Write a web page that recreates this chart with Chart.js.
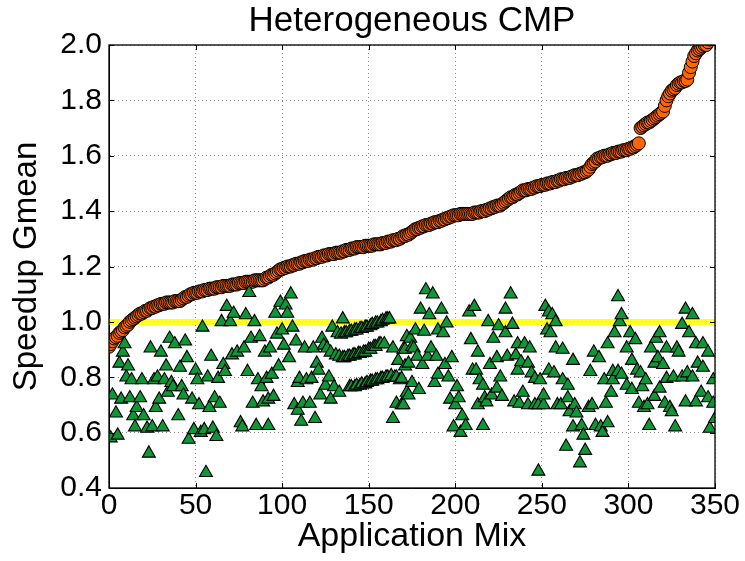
<!DOCTYPE html>
<html>
<head>
<meta charset="utf-8">
<title>Heterogeneous CMP</title>
<script src="https://cdn.jsdelivr.net/npm/chart.js@4.4.1/dist/chart.umd.min.js"></script>
<style>
  html, body { margin: 0; padding: 0; background: #fff; }
  #wrap { width: 745px; height: 561px; }
</style>
</head>
<body>
<div id="wrap"><canvas id="chart"></canvas></div>
<script>
// sorted speedup per application mix (orange circles), index = mix number
const speedupSorted = [
  0.91, 0.92, 0.93, 0.94, 0.945, 0.95, 0.96, 0.965, 0.97, 0.98,
  0.985, 0.99, 1.00, 1.005, 1.01, 1.015, 1.02, 1.025, 1.03, 1.03,
  1.035, 1.04, 1.04, 1.045, 1.05, 1.05, 1.055, 1.055, 1.06, 1.06,
  1.065, 1.065, 1.065, 1.07, 1.07, 1.07, 1.07, 1.07, 1.075, 1.075,
  1.075, 1.075, 1.08, 1.085, 1.09, 1.09, 1.095, 1.10, 1.10, 1.105,
  1.105, 1.105, 1.11, 1.11, 1.11, 1.115, 1.115, 1.115, 1.12, 1.12,
  1.12, 1.12, 1.125, 1.125, 1.125, 1.125, 1.13, 1.13, 1.13, 1.13,
  1.13, 1.135, 1.135, 1.135, 1.135, 1.14, 1.14, 1.14, 1.14, 1.145,
  1.145, 1.145, 1.145, 1.145, 1.15, 1.15, 1.15, 1.15, 1.15, 1.15,
  1.155, 1.16, 1.16, 1.165, 1.17, 1.17, 1.175, 1.18, 1.185, 1.19,
  1.19, 1.195, 1.195, 1.20, 1.20, 1.20, 1.205, 1.205, 1.21, 1.21,
  1.21, 1.215, 1.215, 1.22, 1.22, 1.22, 1.225, 1.225, 1.225, 1.23,
  1.23, 1.235, 1.235, 1.235, 1.24, 1.24, 1.24, 1.245, 1.245, 1.245,
  1.245, 1.25, 1.25, 1.25, 1.25, 1.255, 1.255, 1.26, 1.26, 1.26,
  1.265, 1.265, 1.265, 1.27, 1.27, 1.27, 1.27, 1.27, 1.275, 1.275,
  1.275, 1.275, 1.275, 1.28, 1.28, 1.28, 1.28, 1.28, 1.285, 1.285,
  1.285, 1.29, 1.29, 1.29, 1.295, 1.295, 1.295, 1.30, 1.30, 1.305,
  1.31, 1.31, 1.315, 1.315, 1.32, 1.325, 1.33, 1.335, 1.335, 1.34,
  1.34, 1.345, 1.345, 1.35, 1.35, 1.35, 1.355, 1.355, 1.36, 1.36,
  1.36, 1.365, 1.365, 1.37, 1.37, 1.375, 1.375, 1.38, 1.38, 1.385,
  1.385, 1.385, 1.385, 1.39, 1.39, 1.39, 1.39, 1.39, 1.39, 1.39,
  1.39, 1.395, 1.395, 1.395, 1.395, 1.40, 1.40, 1.40, 1.405, 1.405,
  1.41, 1.41, 1.415, 1.415, 1.42, 1.42, 1.42, 1.425, 1.43, 1.435,
  1.44, 1.445, 1.45, 1.45, 1.455, 1.46, 1.46, 1.465, 1.47, 1.475,
  1.475, 1.475, 1.48, 1.48, 1.48, 1.485, 1.485, 1.49, 1.49, 1.49,
  1.495, 1.495, 1.495, 1.50, 1.50, 1.50, 1.505, 1.505, 1.505, 1.51,
  1.51, 1.515, 1.515, 1.515, 1.52, 1.52, 1.52, 1.525, 1.525, 1.53,
  1.53, 1.53, 1.535, 1.535, 1.54, 1.54, 1.545, 1.55, 1.56, 1.57,
  1.575, 1.58, 1.59, 1.59, 1.595, 1.595, 1.60, 1.60, 1.60, 1.605,
  1.605, 1.61, 1.61, 1.61, 1.615, 1.615, 1.615, 1.62, 1.62, 1.62,
  1.625, 1.625, 1.63, 1.63, 1.635, 1.64, 1.645, 1.70, 1.705, 1.71,
  1.715, 1.72, 1.72, 1.725, 1.73, 1.735, 1.74, 1.745, 1.75, 1.755,
  1.76, 1.78, 1.80, 1.815, 1.825, 1.835, 1.84, 1.845, 1.855, 1.86,
  1.865, 1.865, 1.87, 1.87, 1.875, 1.90, 1.92, 1.94, 1.96, 1.97,
  1.98, 1.985, 1.99, 1.995, 2.0, 2.0, 2.01, 2.02, 2.03, 2.05
];

// green triangles: mix number and value
const mixX = [
  1, 2, 4, 5, 6, 7, 8, 9, 10, 11,
  12, 13, 14, 15, 16, 18, 19, 20, 22, 23,
  24, 25, 26, 27, 28, 29, 30, 31, 32, 33,
  34, 35, 36, 37, 38, 40, 41, 42, 43, 44,
  45, 46, 48, 49, 50, 51, 52, 53, 54, 55,
  56, 57, 58, 59, 60, 61, 62, 63, 64, 65,
  66, 67, 68, 70, 71, 72, 74, 76, 77, 78,
  79, 80, 81, 82, 83, 84, 85, 86, 87, 88,
  89, 90, 91, 92, 92, 93, 94, 95, 96, 97,
  98, 99, 100, 101, 102, 103, 104, 105, 106, 107,
  108, 109, 109, 110, 111, 112, 113, 114, 116, 117,
  118, 119, 120, 121, 122, 123, 124, 125, 126, 127,
  128, 128, 129, 130, 131, 132, 133, 133, 134, 135,
  135, 136, 136, 137, 138, 139, 139, 139, 140, 140,
  141, 142, 142, 142, 143, 143, 144, 145, 145, 145,
  146, 146, 147, 148, 148, 148, 149, 149, 150, 151,
  151, 151, 152, 152, 153, 154, 154, 154, 155, 155,
  156, 157, 157, 157, 158, 158, 159, 160, 160, 161,
  161, 162, 163, 164, 164, 165, 166, 166, 167, 168,
  169, 169, 170, 170, 171, 171, 172, 172, 173, 173,
  174, 175, 175, 176, 177, 178, 179, 180, 181, 182,
  183, 184, 185, 186, 187, 188, 189, 190, 190, 192,
  193, 194, 195, 196, 197, 198, 199, 200, 201, 202,
  203, 204, 206, 208, 209, 210, 211, 212, 213, 213,
  214, 216, 216, 217, 218, 219, 220, 221, 222, 224,
  224, 225, 226, 227, 229, 229, 230, 232, 233, 234,
  235, 236, 236, 237, 238, 239, 240, 242, 242, 243,
  244, 246, 246, 248, 248, 249, 251, 251, 252, 253,
  254, 254, 255, 256, 257, 258, 258, 259, 261, 262,
  262, 264, 265, 265, 266, 268, 268, 269, 270, 272,
  273, 274, 275, 277, 278, 279, 280, 281, 283, 284,
  285, 286, 287, 288, 288, 290, 291, 291, 292, 294,
  294, 295, 296, 296, 299, 299, 301, 302, 302, 304,
  305, 306, 307, 308, 309, 310, 311, 312, 313, 315,
  315, 316, 317, 318, 318, 320, 321, 322, 322, 324,
  325, 326, 327, 328, 329, 331, 331, 333, 333, 334,
  335, 337, 337, 339, 339, 340, 342, 343, 343, 346,
  346, 347, 349, 349, 350
];
const mixY = [
  0.58, 0.735, 0.67, 0.59, 0.85, 0.72, 0.89, 0.92, 0.80, 0.84,
  0.725, 0.79, 0.66, 0.62, 0.69, 0.725, 0.79, 0.66, 0.615, 0.525,
  0.905, 0.62, 0.79, 0.69, 0.80, 0.72, 0.89, 0.62, 0.79, 0.84,
  0.745, 0.94, 0.78, 0.765, 0.92, 0.66, 0.835, 0.765, 0.735, 0.93,
  0.87, 0.575, 0.72, 0.61, 0.825, 0.79, 0.70, 0.60, 0.98, 0.61,
  0.455, 0.80, 0.69, 0.875, 0.615, 0.725, 0.585, 0.795, 0.705, 1.0,
  0.845, 0.82, 1.055, 1.0, 0.88, 1.03, 0.89, 0.635, 0.62, 0.905,
  1.025, 0.82, 1.105, 0.94, 0.705, 1.0, 0.625, 0.79, 0.946, 0.765,
  0.71, 0.89, 0.795, 0.72, 0.625, 0.905, 0.81, 0.73, 1.03, 0.955,
  0.84, 1.07, 0.97, 0.915, 1.06, 1.03, 0.87, 1.10, 0.98, 0.70,
  0.93, 0.68, 0.78, 0.795, 0.64, 0.705, 0.905, 0.79, 0.705, 0.795,
  0.905, 0.65, 0.85, 0.825, 0.735, 0.94, 0.915, 0.77, 0.905, 0.80,
  0.72, 0.89, 0.98, 0.765, 0.88, 0.96, 0.745, 0.875, 0.955, 1.01,
  0.87, 0.96, 0.87, 0.96, 0.875, 0.965, 0.875, 0.765, 0.965, 0.765,
  0.88, 0.97, 0.88, 0.765, 0.97, 0.77, 0.885, 0.975, 0.885, 0.77,
  0.975, 0.775, 0.89, 0.98, 0.89, 0.775, 0.98, 0.78, 0.90, 0.985,
  0.90, 0.785, 0.99, 0.785, 0.91, 0.995, 0.91, 0.79, 0.995, 0.79,
  0.92, 1.0, 0.92, 0.795, 1.005, 0.795, 0.92, 1.01, 0.80, 1.01,
  0.80, 1.01, 0.805, 0.905, 0.65, 0.80, 0.80, 0.705, 0.86, 0.79,
  0.795, 0.70, 0.90, 0.70, 0.90, 0.84, 0.946, 0.745, 0.85, 0.735,
  0.94, 0.91, 0.78, 0.905, 0.97, 0.875, 0.755, 1.045, 0.845, 0.965,
  1.115, 0.875, 1.025, 0.905, 1.10, 0.78, 0.875, 0.97, 0.81, 1.045,
  0.96, 0.845, 0.995, 0.80, 0.72, 0.87, 0.62, 0.70, 0.765, 0.725,
  0.60, 0.66, 0.625, 1.035, 0.935, 0.825, 1.055, 0.825, 0.89, 0.70,
  0.79, 0.77, 0.625, 0.725, 0.71, 1.0, 0.845, 0.735, 0.94, 0.87,
  0.76, 0.985, 0.80, 0.73, 0.96, 1.045, 0.875, 1.10, 0.99, 0.71,
  0.88, 0.92, 0.825, 0.705, 0.855, 0.745, 0.92, 0.85, 0.70, 0.905,
  0.815, 0.795, 0.70, 0.70, 0.46, 0.79, 0.70, 0.735, 1.055, 0.97,
  1.035, 0.825, 0.96, 1.025, 0.815, 1.0, 0.905, 0.70, 0.70, 0.90,
  0.79, 0.55, 0.77, 0.725, 0.675, 0.86, 0.62, 0.70, 0.67, 0.49,
  0.625, 0.59, 0.535, 0.69, 0.82, 0.70, 0.89, 0.625, 0.87, 0.62,
  0.60, 0.79, 0.705, 0.92, 0.635, 0.745, 0.82, 0.79, 0.96, 1.09,
  0.82, 1.0, 1.025, 0.81, 0.905, 0.77, 0.96, 0.86, 0.755, 0.935,
  0.825, 0.705, 0.815, 0.765, 0.69, 0.79, 0.70, 0.625, 0.905, 0.85,
  0.73, 0.94, 0.87, 0.96, 0.76, 0.845, 0.705, 0.795, 0.905, 0.69,
  0.675, 0.80, 0.62, 0.905, 0.89, 0.99, 0.80, 1.045, 0.71, 0.815,
  0.96, 1.025, 0.80, 0.92, 0.71, 0.85, 0.745, 0.92, 0.835, 0.89,
  0.725, 0.615, 0.705, 0.79, 0.65
];

// baseline at speedup 1.0
const baseX = [0, 350];
const baseY = [1.0, 1.0];

const xTicks = [0, 50, 100, 150, 200, 250, 300, 350];
const yTicks = [0.4, 0.6, 0.8, 1.0, 1.2, 1.4, 1.6, 1.8, 2.0];

Chart.defaults.font.family = "'Liberation Sans', Arial, sans-serif";
Chart.defaults.color = "#000";

// black box with inward tick marks on all sides, like matplotlib
const frame = {
  id: "frame",
  afterDatasetsDraw(chart) {
    const { ctx, chartArea: a, scales } = chart;
    ctx.save();
    ctx.strokeStyle = "#000";
    ctx.lineWidth = 1;
    ctx.beginPath();
    scales.x.ticks.forEach((t) => {
      const px = Math.round(scales.x.getPixelForValue(t.value)) + 0.5;
      ctx.moveTo(px, a.bottom);
      ctx.lineTo(px, a.bottom - 5);
      ctx.moveTo(px, a.top);
      ctx.lineTo(px, a.top + 5);
    });
    scales.y.ticks.forEach((t) => {
      const py = Math.round(scales.y.getPixelForValue(t.value)) + 0.5;
      ctx.moveTo(a.left, py);
      ctx.lineTo(a.left + 5, py);
      ctx.moveTo(a.right, py);
      ctx.lineTo(a.right - 5, py);
    });
    ctx.stroke();
    ctx.lineWidth = 1.3;
    ctx.strokeRect(a.left, a.top, a.right - a.left, a.bottom - a.top);
    ctx.restore();
  },
};

const grid = {
  color: "rgba(0,0,0,0.45)",
  lineWidth: 1,
  drawTicks: false,
};
const border = { display: true, color: "#000", dash: [1, 3] };

new Chart(document.getElementById("chart"), {
  type: "scatter",
  data: {
    datasets: [
      {
        label: "mix",
        data: mixX.map((x, i) => ({ x: x, y: mixY[i] })),
        pointStyle: "triangle",
        pointRadius: 7.5,
        backgroundColor: "#0f9637",
        borderColor: "#000",
        borderWidth: 1.1,
        order: 1,
        clip: 0,
      },
      {
        label: "sorted",
        data: speedupSorted.map((v, i) => ({ x: i, y: v })),
        pointStyle: "circle",
        pointRadius: 6.5,
        backgroundColor: "#ff6600",
        borderColor: "#000",
        borderWidth: 1,
        order: 2,
        clip: 0,
      },
      {
        label: "baseline",
        data: baseX.map((x, i) => ({ x: x, y: baseY[i] })),
        showLine: true,
        pointRadius: 0,
        borderColor: "rgba(255,255,0,0.85)",
        borderWidth: 6,
        order: 3,
        clip: 0,
      },
    ],
  },
  options: {
    responsive: true,
    maintainAspectRatio: false,
    animation: false,
    devicePixelRatio: 1,
    events: [],
    layout: { padding: { left: 0, right: 30, top: 0, bottom: 0 } },
    plugins: {
      legend: { display: false },
      tooltip: { enabled: false },
      title: {
        display: true,
        text: "Heterogeneous CMP",
        fullSize: false,
        color: "#000",
        font: { size: 35, weight: "normal", lineHeight: 1.2 },
        padding: { top: 0, bottom: 3 },
      },
    },
    scales: {
      x: {
        type: "linear",
        min: 0,
        max: 350,
        afterBuildTicks: (s) => { s.ticks = xTicks.map((v) => ({ value: v })); },
        afterFit: (s) => { s.height = 73; },
        grid: grid,
        border: border,
        ticks: { font: { size: 30 }, padding: 0, maxRotation: 0, color: "#000" },
        title: {
          display: true,
          text: "Application Mix",
          color: "#000",
          font: { size: 34, lineHeight: 1.2 },
          padding: { top: 0, bottom: 4 },
        },
      },
      y: {
        type: "linear",
        min: 0.4,
        max: 2.0,
        afterBuildTicks: (s) => { s.ticks = yTicks.map((v) => ({ value: v })); },
        afterFit: (s) => { s.width = 109; },
        grid: grid,
        border: border,
        ticks: {
          font: { size: 30 },
          padding: 7,
          color: "#000",
          callback: (v) => Number(v).toFixed(1),
        },
        title: {
          display: true,
          text: "Speedup Gmean",
          color: "#000",
          font: { size: 33, lineHeight: 1.2 },
          padding: { top: 7, bottom: 0 },
        },
      },
    },
  },
  plugins: [frame],
});
</script>
</body>
</html>
